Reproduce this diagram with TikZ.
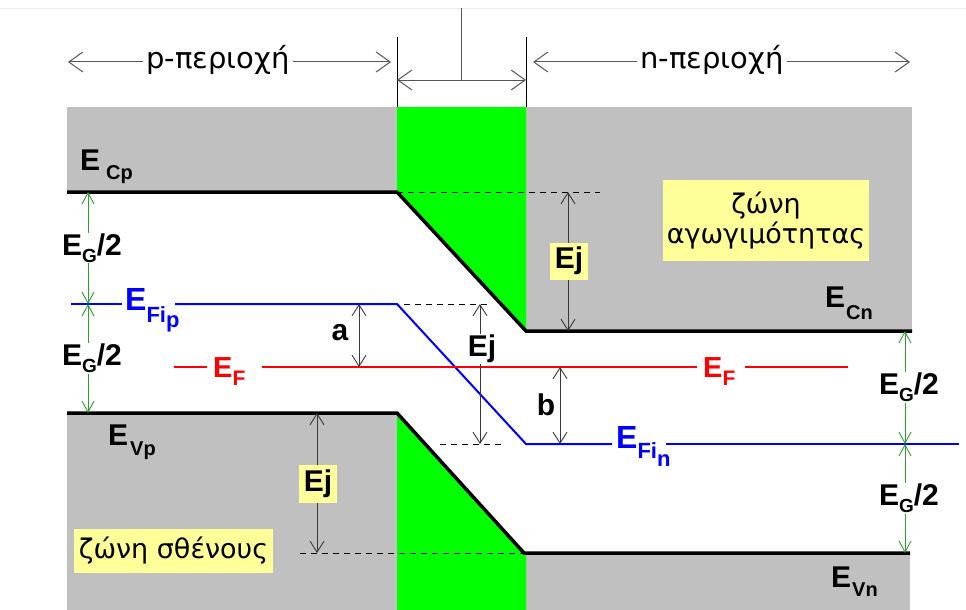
\documentclass[tikz,border=0pt]{standalone}
\usepackage{fontspec}
\setmainfont{Liberation Sans}
\newfontfamily\grk{DejaVu Sans}
\usetikzlibrary{arrows.meta}
\definecolor{bandgrey}{HTML}{C0C0C0}
\definecolor{jgreen}{HTML}{00FF00}
\definecolor{lyellow}{HTML}{FFFF99}
\definecolor{arrgreen}{HTML}{2E9E2E}
\definecolor{arrgrey}{HTML}{383838}
\definecolor{topgrey}{HTML}{555555}
\newcommand\Lf{\fontsize{30}{32}\selectfont\bfseries}
\newcommand\Sf{\fontsize{20}{22}\selectfont\bfseries}
\newcommand\Gsf{\fontsize{19}{21}\selectfont\bfseries}
\newcommand\Bf{\fontsize{32}{34}\selectfont\bfseries}
\newcommand\BSf{\fontsize{22}{24}\selectfont\bfseries}
\newcommand\Rf{\fontsize{29}{31}\selectfont\bfseries}
\newcommand\RSf{\fontsize{21}{22}\selectfont\bfseries}
\newcommand\Gf{\grk\fontsize{27}{30}\selectfont}
\newcommand\GRf{\grk\fontsize{29}{31}\selectfont}
\tikzset{
  band/.style={fill=bandgrey},
  junc/.style={fill=jgreen},
  edgeline/.style={line width=3.5pt, black, line join=miter},
  fermi/.style={red, line width=2pt},
  intr/.style={blue, line width=2pt},
  guide/.style={black, line width=0.8pt, dash pattern=on 6pt off 5pt},
  dimarr/.style={arrgrey, line width=0.9pt, {Straight Barb[length=11pt,width=14pt]}-{Straight Barb[length=11pt,width=14pt]}},
  gaparr/.style={arrgreen, line width=0.9pt, {Straight Barb[length=11pt,width=12pt]}-{Straight Barb[length=11pt,width=12pt]}},
  toparr/.style={topgrey, line width=1pt, -{Straight Barb[length=14pt,width=20pt]}},
  topdbl/.style={topgrey, line width=1pt, {Straight Barb[length=14pt,width=20pt]}-{Straight Barb[length=14pt,width=20pt]}},
  lbl/.style={inner sep=0pt, anchor=base west},
  gaplbl/.style={fill=white, text=black, inner sep=1pt, font=\Lf},
  ybox/.style={fill=lyellow, inner sep=0pt, text=black},
}
\begin{document}
\begin{tikzpicture}[x=1pt,y=-1pt]
\useasboundingbox (0,0) rectangle (966,610);
\draw[gray!15, line width=0.8pt] (0,8) -- (966,8);

% bands
\fill[band] (67,107) rectangle (397,192);
\fill[band] (526,107) rectangle (912,331);
\fill[band] (67,413) rectangle (397,610);
\fill[band] (526,553) rectangle (910,610);
\fill[junc] (397,107) -- (526,107) -- (526,331) -- (397,192) -- cycle;
\fill[junc] (397,413) -- (524,553) -- (526,553) -- (526,610) -- (397,610) -- cycle;

% junction marks at top
\coordinate (jLt) at (397,37);
\coordinate (jLb) at (397,107);
\coordinate (jRt) at (526,37);
\coordinate (jRb) at (526,107);
\coordinate (jA) at (397,80);
\coordinate (jB) at (526,80);
\coordinate (jM) at (461,80);
\coordinate (jMt) at (461,8);
\draw[black, line width=1pt] (jLt) -- (jLb);
\draw[black, line width=1pt] (jRt) -- (jRb);
\draw[topgrey, line width=1pt] (jMt) -- (jM);
\draw[topdbl] (jA) -- (jB);

% region labels
\coordinate (pL) at (68,62);
\coordinate (pR) at (391,62);
\coordinate (nL) at (533,62);
\coordinate (nR) at (910,62);
\node[inner xsep=3pt, inner ysep=0pt] (ptxt) at (218,60) {\GRf p-περιοχή};
\node[inner xsep=3pt, inner ysep=0pt] (ntxt) at (712,60) {\GRf n-περιοχή};
\draw[toparr] (ptxt.west |- pL) -- (pL);
\draw[toparr] (ptxt.east |- pR) -- (pR);
\draw[toparr] (ntxt.west |- nL) -- (nL);
\draw[toparr] (ntxt.east |- nR) -- (nR);

% band edges
\coordinate (cpL) at (67,192);
\coordinate (cpR) at (397,192);
\coordinate (cnL) at (526,331);
\coordinate (cnR) at (912,331);
\coordinate (vpL) at (67,413);
\coordinate (vpR) at (397,413);
\coordinate (vnL) at (524,553);
\coordinate (vnR) at (910,553);

% dashed guides
\coordinate (gA) at (600,192);
\coordinate (gB1) at (404,304);
\coordinate (gB2) at (490,304);
\coordinate (gC1) at (440,444);
\coordinate (gC2) at (505,444);
\coordinate (gD1) at (300,553);
\draw[guide] (cpR) -- (gA);
\draw[guide] (gB1) -- (gB2);
\draw[guide] (gC1) -- (gC2);
\draw[guide] (gD1) -- (vnL);

\draw[edgeline] (cpL) -- (cpR) -- (cnL) -- (cnR);
\draw[edgeline] (vpL) -- (vpR) -- (vnL) -- (vnR);

% intrinsic level
\coordinate (fiL) at (71,304);
\coordinate (fiG1) at (122,304);
\coordinate (fiG2) at (175,304);
\coordinate (fiP) at (397,304);
\coordinate (fiN) at (526,444);
\coordinate (fiG3) at (612,444);
\coordinate (fiG4) at (666,444);
\coordinate (fiR) at (959,444);
\draw[intr] (fiL) -- (fiG1);
\draw[intr] (fiG2) -- (fiP) -- (fiN) -- (fiG3);
\draw[intr] (fiG4) -- (fiR);
\node[lbl, blue] (efip) at (125,310) {\Bf E\raisebox{-12pt}{\BSf Fi\raisebox{-5pt}{p}}};
\node[lbl, blue] (efin) at (616,448) {\Bf E\raisebox{-10pt}{\BSf Fi\raisebox{-8pt}{n}}};

% Fermi level
\coordinate (fL) at (174,367);
\coordinate (fG1) at (207,367);
\coordinate (fG2) at (262,367);
\coordinate (fG3) at (697,367);
\coordinate (fG4) at (745,367);
\coordinate (fR) at (848,367);
\draw[fermi] (fL) -- (fG1);
\draw[fermi] (fG2) -- (fG3);
\draw[fermi] (fG4) -- (fR);
\node[lbl, red] (efl) at (213,377) {\Rf E\raisebox{-8pt}{\RSf F}};
\node[lbl, red] (efr) at (703,377) {\Rf E\raisebox{-8pt}{\RSf F}};

% band labels
\node[lbl] (ecp) at (80,170) {\Lf E\hspace{6pt}\raisebox{-9pt}{\Sf Cp}};
\node[lbl] (ecn) at (825,307) {\Lf E\hspace{1pt}\raisebox{-12pt}{\Sf Cn}};
\node[lbl] (evp) at (108,445) {\Lf E\hspace{2pt}\raisebox{-10pt}{\Sf Vp}};
\node[lbl] (evn) at (831,587) {\Lf E\hspace{1pt}\raisebox{-9pt}{\Sf Vn}};

% E_G/2 arrows
\coordinate (gl1) at (88,192);
\coordinate (gl2) at (88,304);
\coordinate (gl3) at (88,413);
\coordinate (gr1) at (905,331);
\coordinate (gr2) at (905,444);
\coordinate (gr3) at (905,553);
\draw[gaparr] (gl1) -- node[gaplbl, xshift=4pt] (eg1) {E\raisebox{-7pt}{\Gsf G}/2} (gl2);
\draw[gaparr] (gl2) -- node[gaplbl, xshift=4pt] (eg2) {E\raisebox{-7pt}{\Gsf G}/2} (gl3);
\draw[gaparr] (gr1) -- node[gaplbl, xshift=4pt] (eg3) {E\raisebox{-7pt}{\Gsf G}/2} (gr2);
\draw[gaparr] (gr2) -- node[gaplbl, xshift=4pt] (eg4) {E\raisebox{-7pt}{\Gsf G}/2} (gr3);

% Ej, a, b arrows
\coordinate (ej1t) at (568,192);
\coordinate (ej1b) at (568,331);
\coordinate (ej2t) at (480,304);
\coordinate (ej2b) at (480,444);
\coordinate (ej3t) at (317,413);
\coordinate (ej3b) at (317,553);
\coordinate (at) at (359,304);
\coordinate (ab) at (359,367);
\coordinate (bt) at (560,367);
\coordinate (bb) at (560,444);
\draw[dimarr] (ej1t) -- (ej1b);
\draw[dimarr] (ej2t) -- (ej2b);
\draw[dimarr] (ej3t) -- (ej3b);
\draw[dimarr] (at) -- (ab);
\draw[dimarr] (bt) -- (bb);
\node[ybox, minimum width=38pt, minimum height=37pt, font=\Lf] (ejbox1) at (569,261) {Ej};
\node[ybox, minimum width=38pt, minimum height=38pt, font=\Lf] (ejbox2) at (318,484) {Ej};
\node[gaplbl] (ejmid) at (482,349) {Ej};
\node[inner sep=0pt, font=\Lf] (alab) at (340,333) {a};
\node[inner sep=0pt, font=\Lf] (blab) at (546,405) {b};

% band names
\node[ybox, minimum width=206pt, minimum height=81pt, align=center, font=\Gf] (cband) at (766,220.5) {ζώνη\\αγωγιμότητας};
\node[ybox, minimum width=199pt, minimum height=44pt, font=\Gf] (vband) at (173.5,551) {ζώνη σθένους};
\end{tikzpicture}
\end{document}
